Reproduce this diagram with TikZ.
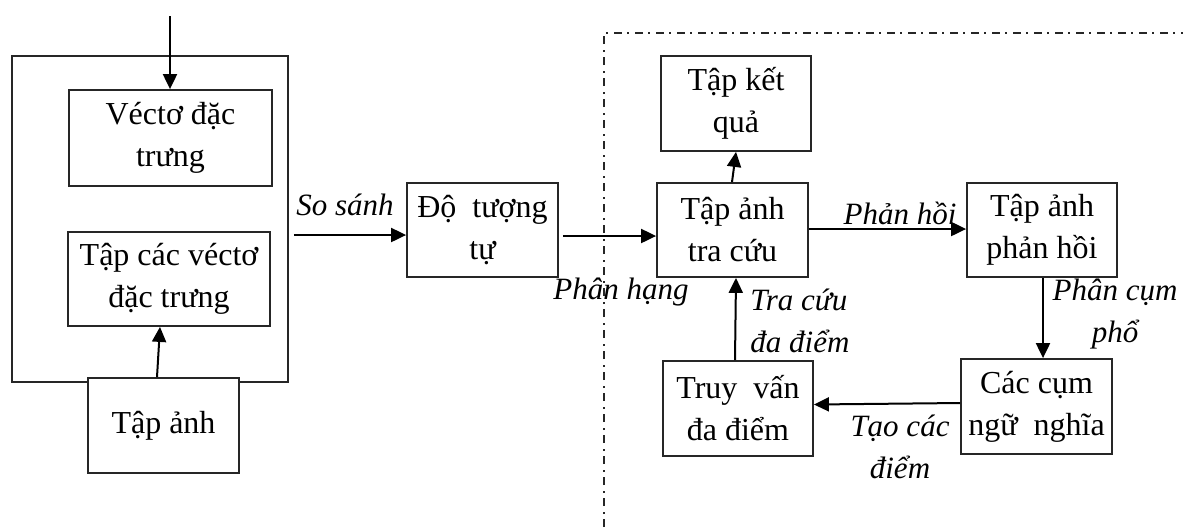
\documentclass[tikz,border=0pt]{standalone}
\usepackage{fontspec}
\setmainfont{Liberation Serif}
\usetikzlibrary{arrows.meta,calc}
\begin{document}
\begin{tikzpicture}[x=0.5pt,y=-0.5pt,
  box/.style={draw=black!85,line width=0.9pt,fill=white,align=center,inner sep=0pt,
    font=\fontsize{16}{21}\selectfont},
  frame/.style={draw=black!85,line width=0.9pt,inner sep=0pt},
  lbl/.style={inner sep=0pt,font=\fontsize{15.5}{21}\selectfont\itshape},
  arr/.style={line width=1pt,-{Triangle[length=7.5pt,width=7pt]}},
  zone/.style={draw=black!85,line width=0.8pt,dash pattern=on 4pt off 2.5pt on 1pt off 3pt}]
\useasboundingbox (0,0) rectangle (1183,527);

% feature extraction block
\node[frame,minimum width=138pt,minimum height=163pt] (frame) at (150,219) {};
\node[box,minimum width=101.5pt,minimum height=48pt] (vec) at (170.5,138) {Véctơ đặc\\trưng};
\node[box,minimum width=101pt,minimum height=47pt] (tapcac) at (169,279) {Tập các véctơ\\đặc trưng};
\node[box,minimum width=75.5pt,minimum height=47.5pt] (tapanh) at (163.5,425.5) {\raisebox{2.5pt}{Tập ảnh}};

% ranking block
\node[box,minimum width=75.5pt,minimum height=47pt] (do) at (482.5,230) {Độ\ \ tượng\\tự};

% feedback zone
\draw[zone] (604,527) -- (604,33) -- (1183,33);
\node[box,minimum width=75.5pt,minimum height=47pt] (tracuu) at (732.5,230) {Tập ảnh\\tra cứu};
\node[box,minimum width=75pt,minimum height=47.5pt] (ketqua) at (736,103.5) {Tập kết\\quả};
\node[box,minimum width=75pt,minimum height=47pt] (phanhoi) at (1042,230) {Tập ảnh\\phản hồi};
\node[box,minimum width=75.5pt,minimum height=47.5pt] (cum) at (1036.5,406.5) {Các cụm\\ngữ\ \ nghĩa};
\node[box,minimum width=75pt,minimum height=47.5pt] (truyvan) at (738,408.5) {Truy\ \ vấn\\đa điểm};

% connectors
\coordinate (src) at (170,16);
\draw[arr] (src) -- (src |- vec.north);
\draw[arr] ($(tapanh.north)+(-6.5,0)$) -- ($(tapcac.south)+(-9,0)$);
\draw[arr] ($(frame.east |- do.west)+(5,5)$) -- ($(do.west)+(0,5)$);
\draw[arr] ($(do.east)+(4,6)$) -- ($(tracuu.west)+(0,6)$);
\draw[arr] ($(tracuu.north)+(-0.5,0)$) -- (ketqua.south);
\draw[arr] ($(tracuu.east)+(0,-1)$) -- ($(phanhoi.west)+(0,-1)$);
\draw[arr] ($(phanhoi.south)+(1,0)$) -- ($(phanhoi.south |- cum.north)+(1,0)$);
\draw[arr] ($(cum.west)+(0,-3.5)$) -- ($(truyvan.east)+(0,-4)$);
\draw[arr] ($(truyvan.north)+(-3,0)$) -- ($(tracuu.south)+(3.5,0)$);

% connector labels
\node[lbl] (lsosanh) at (345,205) {So sánh};
\node[lbl] (lphanhang) at (621,292) {Phân hạng};
\node[lbl] (lphanhoi) at (900,213) {Phản hồi};
\node[lbl,align=left,anchor=west] (ltracuu) at (750,321) {Tra cứu\\đa điểm};
\node[lbl,align=center] (lphancum) at (1115,314) {Phân cụm\\phổ};
\node[lbl,align=center] (ltaocac) at (900,447) {Tạo các\\điểm};
\end{tikzpicture}
\end{document}
